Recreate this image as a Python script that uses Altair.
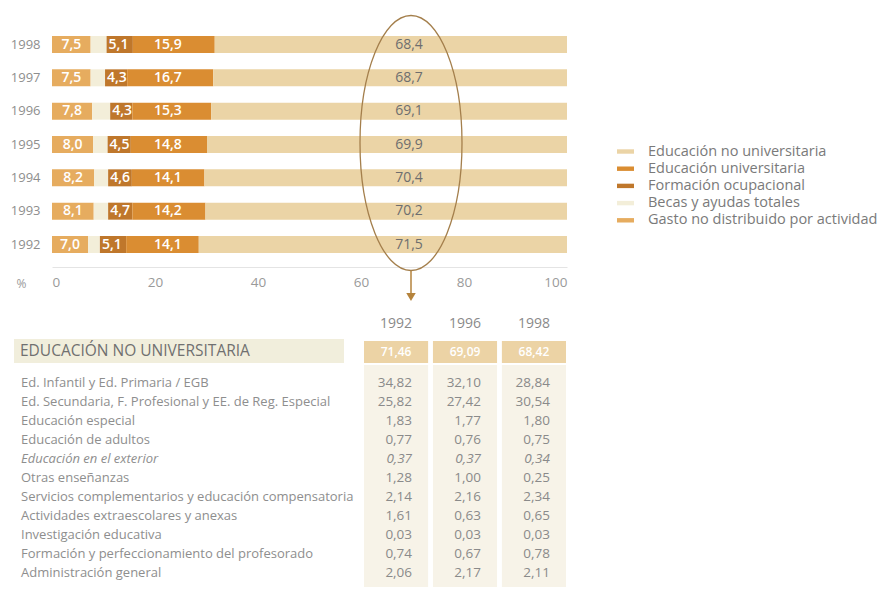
import altair as alt
import pandas as pd

# ---------------- data: stacked bars ----------------
anios = ["1998", "1997", "1996", "1995", "1994", "1993", "1992"]
gasto_no_distribuido = [7.5, 7.5, 7.8, 8.0, 8.2, 8.1, 7.0]
becas = [3.1, 2.8, 3.5, 2.8, 2.7, 2.8, 2.3]
formacion_ocupacional = [5.1, 4.3, 4.3, 4.5, 4.6, 4.7, 5.1]
educacion_universitaria = [15.9, 16.7, 15.3, 14.8, 14.1, 14.2, 14.1]
educacion_no_universitaria = [68.4, 68.7, 69.1, 69.9, 70.4, 70.2, 71.5]

categorias = ["Educación no universitaria", "Educación universitaria",
              "Formación ocupacional", "Becas y ayudas totales",
              "Gasto no distribuido por actividad"]
colores = ["#ebd4a6", "#da8d32", "#bf772b", "#f3eed9", "#e6ac5f"]

# ---------------- data: table ----------------
tabla_anios = ["1992", "1996", "1998"]
tabla_titulo = "EDUCACIÓN NO UNIVERSITARIA"
tabla_totales = [71.46, 69.09, 68.42]
filas = ["Ed. Infantil y Ed. Primaria / EGB",
         "Ed. Secundaria, F. Profesional y EE. de Reg. Especial",
         "Educación especial",
         "Educación de adultos",
         "Educación en el exterior",
         "Otras enseñanzas",
         "Servicios complementarios y educación compensatoria",
         "Actividades extraescolares y anexas",
         "Investigación educativa",
         "Formación y perfeccionamiento del profesorado",
         "Administración  general"]
valores_1992 = [34.82, 25.82, 1.83, 0.77, 0.37, 1.28, 2.14, 1.61, 0.03, 0.74, 2.06]
valores_1996 = [32.10, 27.42, 1.77, 0.76, 0.37, 1.00, 2.16, 0.63, 0.03, 0.67, 2.17]
valores_1998 = [28.84, 30.54, 1.80, 0.75, 0.34, 0.25, 2.34, 0.65, 0.03, 0.78, 2.11]
filas_cursiva = ["Educación en el exterior"]


def coma(v, d):
    return f"{v:.{d}f}".replace(".", ",")


# long table for stacked bars
series = {
    "Gasto no distribuido por actividad": gasto_no_distribuido,
    "Becas y ayudas totales": becas,
    "Formación ocupacional": formacion_ocupacional,
    "Educación universitaria": educacion_universitaria,
    "Educación no universitaria": educacion_no_universitaria,
}
rows = []
for i, a in enumerate(anios):
    for k, (cat, vals) in enumerate(series.items()):
        rows.append({"anio": a, "categoria": cat, "valor": vals[i], "orden": k})
df_bar = pd.DataFrame(rows)

df_lab = pd.DataFrame({
    "anio": anios,
    "gasto": gasto_no_distribuido,
    "becas": becas,
    "form": formacion_ocupacional,
    "univ": educacion_universitaria,
    "nouniv": educacion_no_universitaria,
})
df_lab["gasto_mid"] = df_lab["gasto"] / 2
df_lab["form_ini"] = df_lab["gasto"] + df_lab["becas"]
for c in ["gasto", "form", "univ", "nouniv"]:
    df_lab[c + "_txt"] = df_lab[c].map(lambda v: coma(v, 1))

W = 515
H = 245
GRAY = "#8e8e8e"
FONT = "Open Sans"

yenc = alt.Y("anio:N", sort=anios,
             scale=alt.Scale(domain=anios, paddingInner=0.49, paddingOuter=0.42),
             axis=alt.Axis(title=None, ticks=False, domain=False, labelColor=GRAY,
                           labelFontSize=13, labelPadding=12))

rect_path = "M-1,-0.26H1V0.26H-1Z"

bars = alt.Chart(df_bar).mark_bar().encode(
    x=alt.X("valor:Q", stack="zero",
            scale=alt.Scale(domain=[0, 100], nice=False),
            axis=alt.Axis(values=[0, 20, 40, 60, 80, 100], grid=False, ticks=False,
                          domainColor="#e4e4e4", labelColor="#9a9a9a", labelFontSize=13.5,
                          labelPadding=8, title="%", titleX=-31, titleY=16,
                          titleBaseline="middle", titleAlign="center",
                          titleFontWeight="normal", titleColor="#9a9a9a",
                          titleFontSize=12)),
    y=yenc,
    color=alt.Color("categoria:N", scale=alt.Scale(domain=categorias, range=colores),
                    legend=alt.Legend(title=None, orient="none", legendX=565, legendY=121,
                                      symbolType=rect_path, symbolSize=289,
                                      symbolStrokeWidth=0, labelFontSize=14.5,
                                      labelColor="#7a7a7a", labelOffset=14,
                                      rowPadding=2.2, labelFont=FONT, labelLimit=400)),
    order=alt.Order("orden:Q"),
)

base_lab = alt.Chart(df_lab)
lab_gasto = base_lab.mark_text(color="white", fontSize=14, fontWeight=600,
                               baseline="middle", align="center").encode(
    x=alt.X("gasto_mid:Q"), y=yenc, text="gasto_txt:N")
lab_form = base_lab.mark_text(color="white", fontSize=14, fontWeight=600,
                              baseline="middle", align="left", dx=2).encode(
    x=alt.X("form_ini:Q"), y=yenc, text="form_txt:N")
lab_univ = base_lab.mark_text(color="white", fontSize=14, fontWeight=600,
                              baseline="middle", align="left").encode(
    x=alt.value(102), y=yenc, text="univ_txt:N")
lab_nouniv = base_lab.mark_text(color="#6e6e6e", fontSize=14,
                                baseline="middle", align="center").encode(
    x=alt.value(357), y=yenc, text="nouniv_txt:N")

# ellipse annotation (cubic bezier ellipse)
rx, k = 0.4, 0.5523
kr = k * rx
ell_path = (f"M0,-1C{kr:.4f},-1 {rx},{-k} {rx},0C{rx},{k} {kr:.4f},1 0,1"
            f"C{-kr:.4f},1 {-rx},{k} {-rx},0C{-rx},{-k} {-kr:.4f},-1 0,-1Z")
one = pd.DataFrame({"a": [0]})
ellipse = alt.Chart(one).mark_point(shape=ell_path, size=255 * 255, filled=False,
                                    stroke="#a47f4c", strokeWidth=1.3, opacity=1).encode(
    x=alt.value(359), y=alt.value(121))
arrow_line = alt.Chart(one).mark_rule(color="#b5833c", strokeWidth=1.5).encode(
    x=alt.value(359), y=alt.value(249), y2=alt.value(272))
arrow_head = alt.Chart(one).mark_point(shape="triangle-down", filled=True, size=90,
                                       color="#b5833c", opacity=1).encode(
    x=alt.value(359), y=alt.value(275))

top = alt.layer(bars, lab_gasto, lab_form, lab_univ, lab_nouniv,
                ellipse, arrow_line, arrow_head).properties(width=W, height=H)

# ---------------- table chart ----------------
cells = []
for j, a in enumerate(tabla_anios):
    vals = [valores_1992, valores_1996, valores_1998][j]
    for i, f in enumerate(filas):
        cells.append({"fila": f, "anio": a, "txt": coma(vals[i], 2),
                      "cursiva": f in filas_cursiva})
df_cells = pd.DataFrame(cells)
df_filas = pd.DataFrame({"fila": filas, "cursiva": [f in filas_cursiva for f in filas]})
df_tot = pd.DataFrame({"anio": tabla_anios,
                       "txt": [coma(v, 2) for v in tabla_totales]})
df_tit = pd.DataFrame({"t": [tabla_titulo]})

colx = alt.X("anio:N", scale=alt.Scale(type="band", domain=tabla_anios, range=[312, 514],
                                       paddingInner=0.07, paddingOuter=0), axis=None)
rowy = alt.Y("fila:N", sort=filas,
             scale=alt.Scale(type="point", domain=filas, range=[72, 262], padding=0),
             axis=None)

band = alt.Chart(df_tit).mark_rect(color="#f1eedc").encode(
    x=alt.value(-38), x2=alt.value(292), y=alt.value(28), y2=alt.value(52))
titulo = alt.Chart(df_tit).mark_text(align="left", baseline="middle", fontSize=15.5,
                                     color="#707070").encode(
    x=alt.value(-32), y=alt.value(40), text="t:N")
head_cells = alt.Chart(df_tot).mark_rect(color="#ecd3a5").encode(
    x=colx, y=alt.value(30), y2=alt.value(52))
body_cells = alt.Chart(df_tot).mark_rect(color="#f7f3e8").encode(
    x=colx, y=alt.value(54), y2=alt.value(276))
head_years = alt.Chart(df_tot).mark_text(baseline="middle", fontSize=14,
                                         color="#8a8a8a").encode(
    x=colx, y=alt.value(13), text="anio:N")
head_tot = alt.Chart(df_tot).mark_text(baseline="middle", fontSize=12, fontWeight=600,
                                       color="white").encode(
    x=colx, y=alt.value(41), text="txt:N")
vals_n = alt.Chart(df_cells).transform_filter("!datum.cursiva").mark_text(
    align="right", baseline="middle", dx=16, fontSize=13.5, color="#8a8a8a").encode(
    x=colx, y=rowy, text="txt:N")
vals_i = alt.Chart(df_cells).transform_filter("datum.cursiva").mark_text(
    align="right", baseline="middle", dx=16, fontSize=13.5, color="#8a8a8a",
    fontStyle="italic").encode(x=colx, y=rowy, text="txt:N")
labs_n = alt.Chart(df_filas).transform_filter("!datum.cursiva").mark_text(
    align="left", baseline="middle", fontSize=13, color="#8e8e8e").encode(
    x=alt.value(-31), y=rowy, text="fila:N")
labs_i = alt.Chart(df_filas).transform_filter("datum.cursiva").mark_text(
    align="left", baseline="middle", fontSize=13, color="#8e8e8e",
    fontStyle="italic").encode(x=alt.value(-31), y=rowy, text="fila:N")

table = alt.layer(band, titulo, body_cells, head_cells, head_years, head_tot,
                  vals_n, vals_i, labs_n, labs_i).properties(width=W, height=280)

chart = alt.vconcat(top, table, spacing=9).resolve_legend(
    color="independent").properties(
    padding={"top": 4, "left": 2, "right": 0, "bottom": 0}
).configure(font=FONT).configure_view(stroke=None)

chart.save("out.html", embed_options={"renderer": "svg", "actions": False})
